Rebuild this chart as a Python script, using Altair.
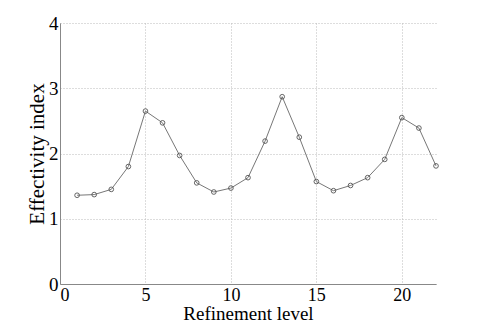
import altair as alt
import pandas as pd

levels = list(range(1, 23))
effectivity = [1.36, 1.37, 1.45, 1.80, 2.65, 2.47, 1.97, 1.55, 1.41, 1.47, 1.63,
               2.19, 2.87, 2.25, 1.57, 1.43, 1.51, 1.63, 1.91, 2.55, 2.39, 1.81]

df = pd.DataFrame({"level": levels, "eff": effectivity})

font = "Liberation Serif"

x = alt.X("level:Q", title="Refinement level",
          scale=alt.Scale(domain=[0, 22], nice=False, zero=False),
          axis=alt.Axis(values=[0, 5, 10, 15, 20], labelFontSize=18, titleFontSize=19,
                        labelFont=font, titleFont=font,
                        labelPadding=2, titlePadding=0, ticks=False))
y = alt.Y("eff:Q", title="Effectivity index",
          scale=alt.Scale(domain=[0, 4], nice=False),
          axis=alt.Axis(values=[0, 1, 2, 3, 4], labelFontSize=19, titleFontSize=21,
                        labelFont=font, titleFont=font,
                        labelPadding=2, titlePadding=1, ticks=False))

line = alt.Chart(df).mark_line(color="#777777", strokeWidth=1).encode(x=x, y=y)
pts = alt.Chart(df).mark_point(shape="circle", size=22, filled=False,
                               color="#555555", strokeWidth=0.9, opacity=1).encode(x=x, y=y)

chart = (line + pts).properties(
    width=376, height=261,
    autosize=alt.AutoSizeParams(type="none"),
    padding={"left": 52, "top": 15, "right": 30, "bottom": 39},
).configure(font=font).configure_view(stroke=None).configure_axis(
    labelColor="#000", titleColor="#000",
    titleFontWeight="normal",
    domainColor="#888888", domainWidth=1,
    gridColor="#bbbbbb", gridDash=[1, 2], gridWidth=1,
)

chart.save("out.html", embed_options={"renderer": "svg", "actions": False})
